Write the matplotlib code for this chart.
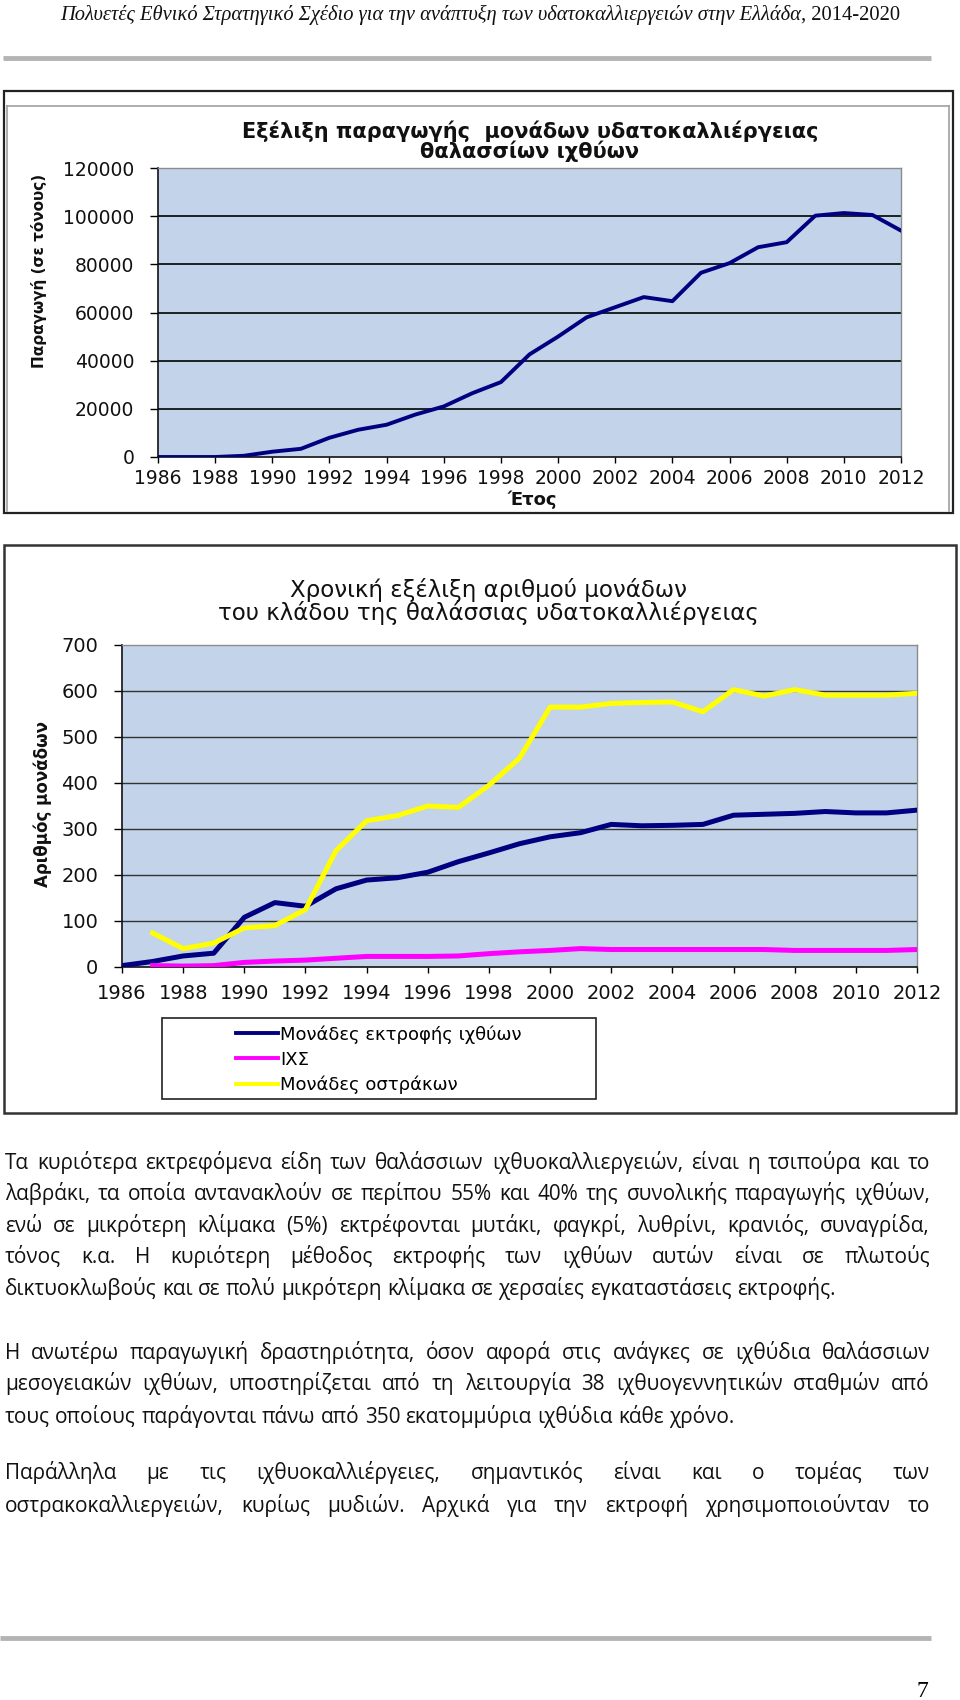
import matplotlib
matplotlib.use('Agg')
import matplotlib.pyplot as plt
from matplotlib.patches import Rectangle
from matplotlib import font_manager
from matplotlib.ft2font import FT2Font

# ---------------- data ----------------
years = list(range(1986, 2013))
production = [0, 0, 0, 500, 2200, 3400, 8000, 11300, 13400, 17600, 21000, 26500,
              31100, 42600, 50000, 58000, 62200, 66400, 64700, 76500, 80500,
              87100, 89200, 100200, 101300, 100500, 94000]

fish_years = list(range(1986, 2013))
fish_units = [3, 12, 24, 30, 108, 140, 132, 170, 189, 194, 206, 229, 248, 268,
              283, 292, 310, 307, 308, 310, 330, 332, 334, 338, 335, 335, 341]
ixs_years = list(range(1987, 2013))
ixs_units = [3, 2, 3, 10, 13, 15, 19, 23, 23, 23, 24, 29, 33, 36, 40, 38, 38,
             38, 38, 38, 38, 36, 36, 36, 36, 38]
shell_years = list(range(1987, 2013))
shell_units = [74, 40, 52, 85, 90, 125, 253, 318, 329, 350, 347, 395, 454, 565,
               565, 573, 575, 576, 555, 603, 589, 603, 591, 591, 591, 595]

series_labels = ['Μονάδες εκτροφής ιχθύων', 'ΙΧΣ', 'Μονάδες οστράκων']
xtick_years = list(range(1986, 2013, 2))
yticks1 = list(range(0, 120001, 20000))
yticks2 = list(range(0, 701, 100))

title1 = ['Εξέλιξη παραγωγής  μονάδων υδατοκαλλιέργειας', 'θαλασσίων ιχθύων']
ylabel1 = 'Παραγωγή (σε τόνους)'
xlabel1 = 'Έτος'
title2 = ['Χρονική εξέλιξη αριθμού μονάδων', 'του κλάδου της θαλάσσιας υδατοκαλλιέργειας']
ylabel2 = 'Αριθμός μονάδων'

header_italic = 'Πολυετές Εθνικό Στρατηγικό Σχέδιο για την ανάπτυξη των υδατοκαλλιεργειών στην Ελλάδα'
header_plain = ', 2014-2020'

paragraphs = [
    ["Τα κυριότερα εκτρεφόμενα είδη των θαλάσσιων ιχθυοκαλλιεργειών, είναι η τσιπούρα και το",
     "λαβράκι, τα οποία αντανακλούν σε περίπου 55% και 40% της συνολικής παραγωγής ιχθύων,",
     "ενώ σε μικρότερη κλίμακα (5%) εκτρέφονται μυτάκι, φαγκρί, λυθρίνι, κρανιός, συναγρίδα,",
     "τόνος κ.α. Η κυριότερη μέθοδος εκτροφής των ιχθύων αυτών είναι σε πλωτούς",
     "δικτυοκλωβούς και σε πολύ μικρότερη κλίμακα σε χερσαίες εγκαταστάσεις εκτροφής."],
    ["Η ανωτέρω παραγωγική δραστηριότητα, όσον αφορά στις ανάγκες σε ιχθύδια θαλάσσιων",
     "μεσογειακών ιχθύων, υποστηρίζεται από τη λειτουργία 38 ιχθυογεννητικών σταθμών από",
     "τους οποίους παράγονται πάνω από 350 εκατομμύρια ιχθύδια κάθε χρόνο."],
    ["Παράλληλα με τις ιχθυοκαλλιέργειες, σημαντικός είναι και ο τομέας των",
     "οστρακοκαλλιεργειών, κυρίως μυδιών. Αρχικά για την εκτροφή χρησιμοποιούνταν το"],
]
justify_flags = [[True, True, True, True, False], [True, True, False], [True, True]]
page_number = '7'

# ---------------- font selection ----------------
def has_greek(name):
    try:
        path = font_manager.findfont(font_manager.FontProperties(family=name),
                                     fallback_to_default=False)
        cmap = FT2Font(path).get_charmap()
        return all(ord(c) in cmap for c in 'αβγώύίΠΣ')
    except Exception:
        return False

body_choice = 'DejaVu Sans'
for cand in ['Open Sans', 'Lato', 'Roboto', 'Liberation Sans', 'Noto Sans']:
    if has_greek(cand):
        body_choice = cand
        break

# ---------------- figure ----------------
W, H, DPI = 960, 1700, 100
fig = plt.figure(figsize=(W / DPI, H / DPI), dpi=DPI)
fig.patch.set_facecolor('white')
page = fig.add_axes([0, 0, 1, 1], zorder=0)
page.set_xlim(0, W)
page.set_ylim(H, 0)
page.axis('off')
renderer = fig.canvas.get_renderer()

CHART_FONT = ['DejaVu Sans']
BODY_FONT = [body_choice, 'DejaVu Sans']
SERIF = ['Liberation Serif', 'DejaVu Serif']

def twidth(s, fs, family, **kw):
    t = page.text(0, 0, s, fontsize=fs, family=family, **kw)
    w = t.get_window_extent(renderer).width
    t.remove()
    return w

def px_axes(l, t, r, b):
    return fig.add_axes([l / W, 1 - b / H, (r - l) / W, (b - t) / H], zorder=2)

# ---------------- header & rules ----------------
hfs = 16
wi = twidth(header_italic, hfs, SERIF, style='italic')
wp = twidth(header_plain, hfs, SERIF)
hfs = hfs * 840 / (wi + wp)
wi = twidth(header_italic, hfs, SERIF, style='italic')
page.text(60, 20, header_italic, fontsize=hfs, family=SERIF, style='italic',
          ha='left', va='baseline', color='#111111')
page.text(60 + wi, 20, header_plain, fontsize=hfs, family=SERIF,
          ha='left', va='baseline', color='#111111')
page.plot([3, 931], [58, 58], color='#b4b4b4', lw=3.5, solid_capstyle='butt')
page.plot([0, 931], [1638, 1638], color='#b4b4b4', lw=3.5, solid_capstyle='butt')
page.text(922, 1697, page_number, fontsize=17, family=SERIF, ha='center', va='baseline')

# ---------------- chart frames ----------------
page.add_patch(Rectangle((4, 91), 949, 422, fill=False, ec='#222222', lw=1.6))
page.plot([7, 949], [106, 106], color='#a0a0a0', lw=1.2)
page.plot([7, 7], [106, 511], color='#a0a0a0', lw=1.2)
page.plot([949, 949], [106, 511], color='#a0a0a0', lw=1.2)
page.add_patch(Rectangle((4, 545), 952, 568, fill=False, ec='#333333', lw=1.8))

PLOT_BG = '#c3d3e9'

def style_axes(ax, ylim, yticks, grid_color, grid_lw, fs):
    ax.set_facecolor(PLOT_BG)
    ax.set_xlim(1986, 2012)
    ax.set_ylim(*ylim)
    ax.set_xticks(xtick_years)
    ax.set_xticklabels([str(y) for y in xtick_years])
    ax.set_yticks(yticks)
    ax.set_yticklabels([str(v) for v in yticks])
    for v in yticks[1:-1]:
        ax.axhline(v, color=grid_color, lw=grid_lw, zorder=1)
    for s in ['top', 'right']:
        ax.spines[s].set_color('#8c8c8c')
        ax.spines[s].set_linewidth(1.0)
    for s in ['left', 'bottom']:
        ax.spines[s].set_color('#111111')
        ax.spines[s].set_linewidth(1.2)
    for lab in ax.get_xticklabels() + ax.get_yticklabels():
        lab.set_family(CHART_FONT)
        lab.set_fontsize(fs)
        lab.set_color('#111111')

# ---------------- chart 1 ----------------
ax1 = px_axes(158, 168, 901, 457)
style_axes(ax1, (0, 120000), yticks1, '#111111', 1.3, 13.5)
ax1.plot(years, production, color='#000080', lw=2.8, zorder=3, solid_joinstyle='round')
ax1.tick_params(axis='y', direction='out', length=6, width=1, pad=11)
ax1.tick_params(axis='x', direction='out', length=4, width=1, pad=5)
for i, line in enumerate(title1):
    page.text(530, 131 + 20 * i, line, fontsize=15, fontweight='bold',
              family=CHART_FONT, ha='center', va='center', color='#111111')
page.text(39, 271, ylabel1, fontsize=11, fontweight='bold',
          family=CHART_FONT, rotation=90, ha='center', va='center', color='#111111')
page.text(532, 500, xlabel1, fontsize=13, fontweight='bold', family=CHART_FONT,
          ha='center', va='center', color='#111111')

# ---------------- chart 2 ----------------
ax2 = px_axes(122, 645, 917, 967)
style_axes(ax2, (0, 700), yticks2, '#333333', 1.0, 14)
l1, = ax2.plot(fish_years, fish_units, color='#000080', lw=3.6, zorder=3, solid_joinstyle='round')
l2, = ax2.plot(ixs_years, ixs_units, color='#ff00ff', lw=3.6, zorder=3, solid_joinstyle='round')
l3, = ax2.plot(shell_years, shell_units, color='#ffff00', lw=3.6, zorder=4, solid_joinstyle='round')
ax2.tick_params(axis='y', direction='out', length=6, width=1, pad=11)
ax2.tick_params(axis='x', direction='out', length=4, width=1, pad=8)
for i, line in enumerate(title2):
    page.text(488, 590 + 23 * i, line, fontsize=16.5, family=CHART_FONT,
              ha='center', va='center', color='#111111')
page.text(43, 804, ylabel2, fontsize=12, fontweight='bold', family=CHART_FONT,
          rotation=90, ha='center', va='center', color='#111111')

# legend box + frameless legend
page.add_patch(Rectangle((162, 1018), 434, 81, fill=False, ec='#222222', lw=1.2))
leg = ax2.legend([l1, l2, l3], series_labels, loc='upper left',
                 bbox_to_anchor=(236 / W, 1 - 1025 / H), bbox_transform=fig.transFigure,
                 frameon=False, borderpad=0, borderaxespad=0, handlelength=2.3,
                 handletextpad=0.15, labelspacing=0.4,
                 prop={'family': CHART_FONT, 'size': 13})
for h in leg.get_lines():
    h.set_linewidth(2.8)

# ---------------- body text ----------------
fs = 14
last = paragraphs[0][-1]
fs = fs * 836 / twidth(last, fs, BODY_FONT)
left, right = 5, 930
sp = twidth('a a', fs, BODY_FONT) - twidth('aa', fs, BODY_FONT)
maxnat = 0
for p in paragraphs:
    for ln in p:
        words = ln.split()
        nat = sum(twidth(w_, fs, BODY_FONT) for w_ in words)
        maxnat = max(maxnat, nat + sp * (len(words) - 1))
if maxnat > right - left:
    fs *= (right - left) / maxnat * 0.995

space_w = twidth('a a', fs, BODY_FONT) - twidth('aa', fs, BODY_FONT)
baselines = [[1169, 1200, 1232, 1263, 1295], [1359, 1390, 1423], [1479, 1512]]
for p, flags, bls in zip(paragraphs, justify_flags, baselines):
    for ln, just, yb in zip(p, flags, bls):
        words = ln.split()
        ws = [twidth(w_, fs, BODY_FONT) for w_ in words]
        if just and len(words) > 1:
            gap = (right - left - sum(ws)) / (len(words) - 1)
        else:
            gap = space_w
        x = left
        for w_, wd in zip(words, ws):
            page.text(x, yb, w_, fontsize=fs, family=BODY_FONT, ha='left',
                      va='baseline', color='#111111')
            x += wd + gap

fig.savefig('out.png', dpi=DPI, facecolor='white')
